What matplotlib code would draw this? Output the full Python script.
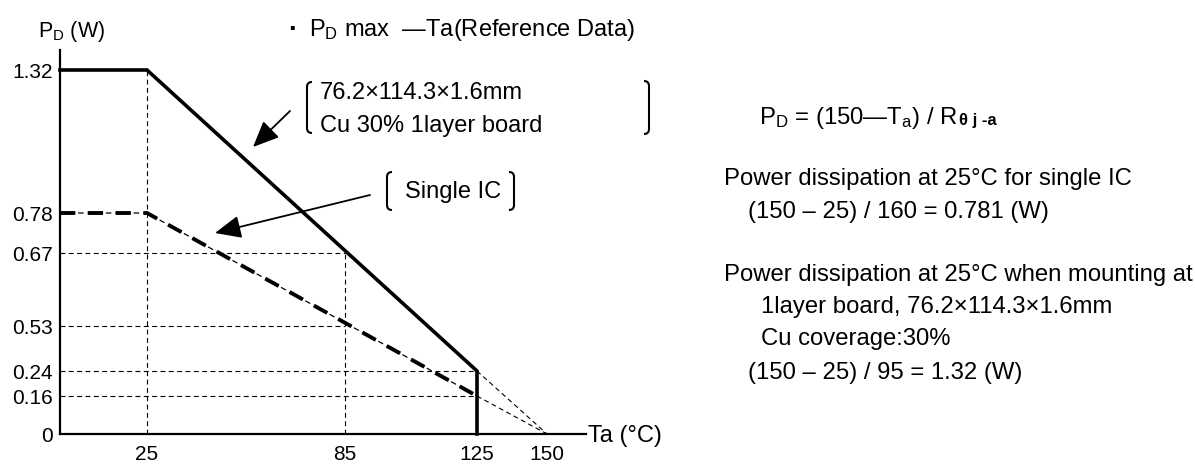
import numpy as np
import matplotlib
matplotlib.use('Agg')
import matplotlib.pyplot as plt
from matplotlib.transforms import Affine2D
from matplotlib.path import Path
from matplotlib.patches import PathPatch

# data (derating curves)
ta_board = [0, 25, 125, 125]
pd_board = [1.32, 1.32, 0.24, 0.0]
ta_single = [0, 25, 125]
pd_single = [0.78, 0.78, 0.16]
ta_tj = 150
x_ticks = [25, 85, 125, 150]
y_ticks = [0, 0.16, 0.24, 0.53, 0.67, 0.78, 1.32]

# the drawing is schematic, so the axes are piecewise linear
x_knots = [0, 25, 85, 125, 150, 164]
x_pos = [0, 87, 285, 417, 487, 526]
y_knots = [0, 0.16, 0.24, 0.53, 0.67, 0.78, 1.32, 1.39]
y_pos = [0, 38, 63, 108, 181, 221, 364, 384]

plt.rcParams['font.family'] = ['Liberation Sans', 'Noto Sans CJK JP', 'DejaVu Sans']
plt.rcParams['mathtext.fontset'] = 'custom'
plt.rcParams['mathtext.rm'] = 'Liberation Sans'
plt.rcParams['mathtext.bf'] = 'Liberation Sans:bold'
plt.rcParams['mathtext.default'] = 'regular'
plt.rcParams['lines.scale_dashes'] = False

W, H = 1195, 465
fig = plt.figure(figsize=(W / 100, H / 100), dpi=100)
px = Affine2D().scale(1 / W, -1 / H).translate(0, 1) + fig.transFigure

ax = fig.add_axes([60 / W, 1 - 434 / H, (586 - 60) / W, (434 - 50) / H])
ax.set_xscale('function', functions=(lambda v: np.interp(v, x_knots, x_pos),
                                     lambda v: np.interp(v, x_pos, x_knots)))
ax.set_yscale('function', functions=(lambda v: np.interp(v, y_knots, y_pos),
                                     lambda v: np.interp(v, y_pos, y_knots)))
ax.set_xlim(0, 164)
ax.set_ylim(0, 1.39)

for s in ['top', 'right']:
    ax.spines[s].set_visible(False)
for s in ['left', 'bottom']:
    ax.spines[s].set_linewidth(1.6)

ax.set_xticks(x_ticks)
ax.set_xticklabels([str(t) for t in x_ticks])
ax.set_yticks(y_ticks)
ax.set_yticklabels(['0', '0.16', '0.24', '0.53', '0.67', '0.78', '1.32'])
ax.tick_params(axis='both', length=0, labelsize=15)
ax.tick_params(axis='x', pad=8)
ax.tick_params(axis='y', pad=5)
ax.xaxis.set_minor_locator(matplotlib.ticker.NullLocator())
ax.yaxis.set_minor_locator(matplotlib.ticker.NullLocator())

guide = dict(color='black', lw=0.8, linestyle=(0, (3.5, 2.5)))
ax.plot([25, 25], [0, pd_board[1]], **guide)
ax.plot([85, 85], [0, 0.67], **guide)
ax.plot([0, 85], [0.67, 0.67], **guide)
ax.plot([0, 85], [0.53, 0.53], **guide)
ax.plot([0, 125], [pd_board[2], pd_board[2]], **guide)
ax.plot([0, 125], [pd_single[2], pd_single[2]], **guide)
ax.plot([125, ta_tj], [pd_board[2], 0], **guide)
ax.plot([125, ta_tj], [pd_single[2], 0], **guide)

ax.plot(ta_board, pd_board, color='black', lw=2.6, solid_joinstyle='miter')
ax.plot(ta_single, pd_single, color='black', lw=0.9, linestyle=(0, (11, 2, 4, 3)))
ax.plot(ta_single, pd_single, color='black', lw=2.8, linestyle=(0, (11, 9)))
for ln in ax.lines:
    ln.set_clip_on(False)


def bracket(x, y0, y1, side, r=5):
    verts = [(x + side * r, y0), (x, y0), (x, y0 + r), (x, y1 - r), (x, y1), (x + side * r, y1)]
    codes = [Path.MOVETO, Path.CURVE3, Path.CURVE3, Path.LINETO, Path.CURVE3, Path.CURVE3]
    fig.add_artist(PathPatch(Path(verts, codes), transform=px, fill=False, lw=1.5, color='black'))


def label(x, y, s, size=17, **kw):
    kw.setdefault('ha', 'left')
    return fig.text(x, y, s, transform=px, fontsize=size, va='center', **kw)


def arrow(x0, y0, x1, y1):
    ax.annotate('', xy=(x1, y1), xycoords=px, xytext=(x0, y0), textcoords=px,
                annotation_clip=False,
                arrowprops=dict(arrowstyle='-|>,head_length=0.8,head_width=0.35',
                                mutation_scale=20, color='black', lw=1.3, shrinkA=0, shrinkB=0))


label(38, 31, 'P$_D$ (W)', size=15.5)
label(588, 436, 'Ta (°C)')
label(293, 30, '·', size=20, ha='center', fontweight='bold')
label(309, 30, 'P$_D$ max  \u2014Ta(Reference Data)', size=17)

bracket(307, 82, 133, 1)
bracket(649, 81, 134, -1)
label(320, 93, '76.2×114.3×1.6mm')
label(320, 126, 'Cu 30% 1layer board')
arrow(290, 111, 253, 147)

bracket(387, 172, 210, 1)
bracket(514, 172, 210, -1)
label(405, 192, 'Single IC')
arrow(370, 195, 215, 233)

formula = label(759, 118, 'P$_D$ = (150\u2014T$_a$) / R', size=17.2)
ax.annotate('θ j -a', xy=(1, 0), xycoords=formula, xytext=(1, 2), textcoords='offset points',
            fontsize=12, fontweight='bold', va='bottom', ha='left', annotation_clip=False)
label(724, 179, 'Power dissipation at 25°C for single IC', size=17.2)
label(748, 212, '(150 – 25) / 160 = 0.781 (W)', size=17.2)
label(724, 275, 'Power dissipation at 25°C when mounting at', size=17.2)
label(761, 307, '1layer board, 76.2×114.3×1.6mm', size=17.2)
label(761, 339, 'Cu coverage:30%', size=17.2)
label(748, 373, '(150 – 25) / 95 = 1.32 (W)', size=17.2)

fig.savefig('out.png', dpi=100)
